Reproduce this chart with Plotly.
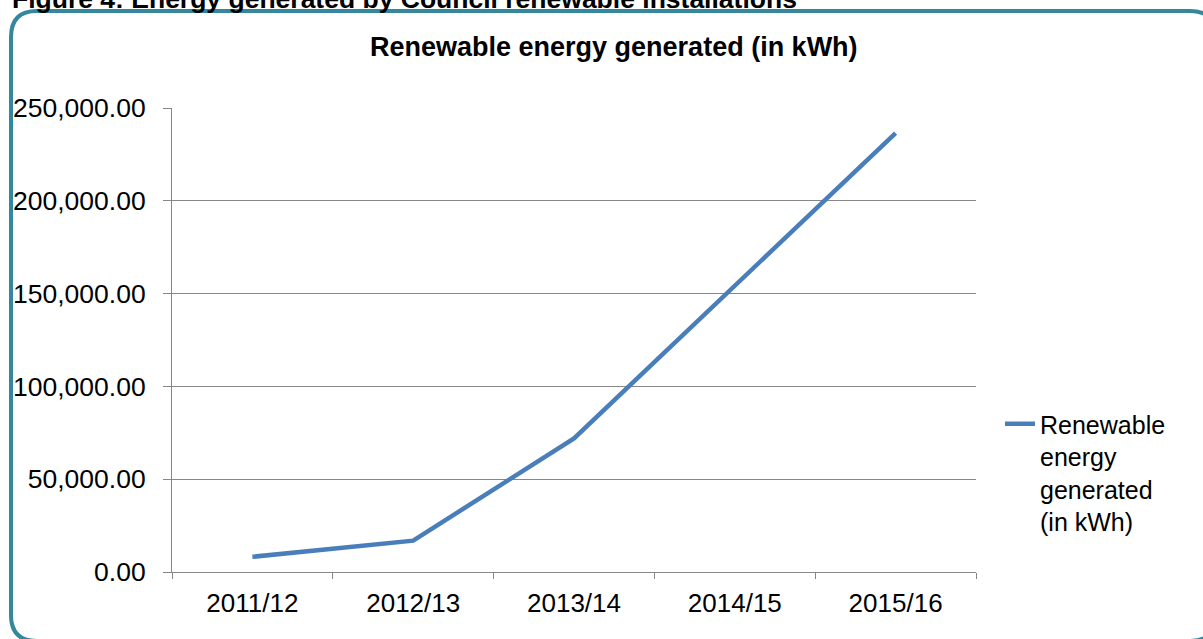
import plotly.graph_objects as go

# data
years = ["2011/12", "2012/13", "2013/14", "2014/15", "2015/16"]
energy_kwh = [8200, 16900, 72000, 154000, 236500]
series_name = "Renewable energy generated (in kWh)"
y_ticks = [0, 50000, 100000, 150000, 200000, 250000]

W, H = 1203, 639
ML, MR, MT, MB = 172, 227, 108, 67
FONT = "Liberation Sans, Arial, sans-serif"
GREY = "#878787"


def paper(px, py):
    """Pixel position in the page -> paper coordinates."""
    pw = W - ML - MR
    ph = H - MT - MB
    return (px - ML) / pw, (H - MB - py) / ph


def rounded_rect(x0, y0, x1, y1, r):
    pts = [
        ("M", x0 + r, y0), ("L", x1 - r, y0), ("Q", x1, y0, x1, y0 + r),
        ("L", x1, y1 - r), ("Q", x1, y1, x1 - r, y1),
        ("L", x0 + r, y1), ("Q", x0, y1, x0, y1 - r),
        ("L", x0, y0 + r), ("Q", x0, y0, x0 + r, y0),
    ]
    out = []
    for p in pts:
        cmd, coords = p[0], p[1:]
        xy = []
        for i in range(0, len(coords), 2):
            a, b = paper(coords[i], coords[i + 1])
            xy.append(f"{a:.5f},{b:.5f}")
        out.append(cmd + " ".join(xy))
    return " ".join(out) + " Z"


fig = go.Figure()
fig.add_trace(go.Scatter(
    x=years, y=energy_kwh, mode="lines",
    name="Renewable<br>energy<br>generated<br>(in kWh)",
    line=dict(color="#4a7ebb", width=4.5),
))

fig.update_layout(
    width=W, height=H,
    margin=dict(l=ML, r=MR, t=MT, b=MB, autoexpand=False),
    paper_bgcolor="white", plot_bgcolor="white",
    font=dict(family=FONT, size=26, color="black"),
    showlegend=True,
    legend=dict(x=paper(1000, 0)[0], y=paper(0, 401)[1], xanchor="left", yanchor="top",
                valign="top", font=dict(size=25), bgcolor="rgba(0,0,0,0)",
                itemwidth=30),
    xaxis=dict(
        type="category", range=[-0.5, len(years) - 0.5],
        showline=True, linecolor=GREY, linewidth=1,
        ticks="outside", tickson="boundaries", ticklen=6, tickcolor=GREY,
        showgrid=False, tickfont=dict(size=26), ticklabelstandoff=8,
    ),
    yaxis=dict(
        range=[0, 250000], tickvals=y_ticks, tickformat=",.2f",
        showline=True, linecolor=GREY, linewidth=1,
        ticks="outside", ticklen=8, tickcolor=GREY,
        showgrid=True, gridcolor=GREY, gridwidth=1.3, zeroline=False,
        tickfont=dict(size=26.5), ticklabelstandoff=12,
    ),
)

# chart title and the (cropped) figure caption above the frame
tx, ty = paper(614, 47)
fig.add_annotation(text="<b>" + series_name + "</b>", x=tx, y=ty, xref="paper", yref="paper",
                   xanchor="center", yanchor="middle", showarrow=False,
                   font=dict(size=27, family=FONT))
cx, cy = paper(10, -1)
fig.add_annotation(text="<b>Figure 4: Energy generated by Council renewable installations</b>",
                   x=cx, y=cy, xref="paper", yref="paper", xanchor="left", yanchor="middle",
                   showarrow=False, font=dict(size=26.5, family=FONT))

# rounded chart frame
fig.add_shape(type="path", xref="paper", yref="paper",
              path=rounded_rect(11, 11, 1216, 641, 26),
              line=dict(color="#35879d", width=4), layer="below")

# drop the default page margin so the figure sits at the window's corner
fig.write_html("out.html", config={"displayModeBar": False},
               post_script="document.body.style.margin='0';")
